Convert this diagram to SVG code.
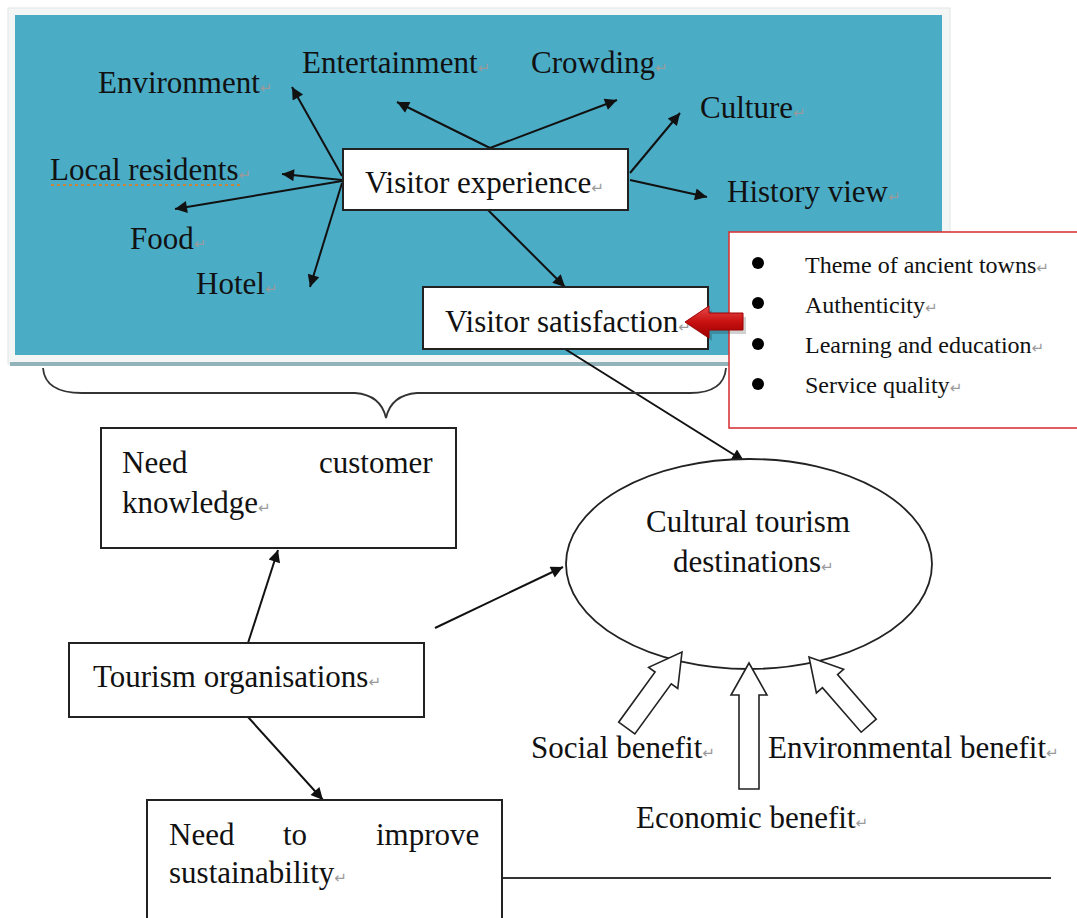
<svg xmlns="http://www.w3.org/2000/svg" width="1077" height="918" viewBox="0 0 1077 918">
<style>
.t{font-family:"Liberation Serif","Times New Roman",serif;font-size:31px;fill:#111}
.s{font-family:"Liberation Serif","Times New Roman",serif;font-size:24px;fill:#111}
.pm{font-family:"DejaVu Sans",sans-serif;font-size:15px;fill:#9a9a9a}
.box{fill:#fff;stroke:#222;stroke-width:2}
.ln{stroke:#111;stroke-width:2;fill:none;marker-end:url(#ah)}
.blk{fill:#fff;stroke:#222;stroke-width:1.6;stroke-linejoin:miter}
</style>
<defs>
<marker id="ah" viewBox="0 0 10 10" refX="10" refY="5" markerWidth="15" markerHeight="12" markerUnits="userSpaceOnUse" orient="auto">
<path d="M0,0 L10,5 L0,10 z" fill="#111"/>
</marker>
<linearGradient id="red" x1="0" y1="0" x2="0" y2="1">
<stop offset="0" stop-color="#e84a4a"/>
<stop offset="0.5" stop-color="#c81010"/>
<stop offset="1" stop-color="#9a0000"/>
</linearGradient>
</defs>
<rect width="1077" height="918" fill="#fff"/>

<g id="panel">
<rect x="8" y="8" width="942" height="356" fill="#f4f6f6" stroke="#e2e6e6" stroke-width="1"/>
<rect x="15" y="15" width="927" height="340" fill="#4bacc6"/>
<rect x="10" y="362" width="940" height="4" fill="#93b3bb"/>
</g>

<g id="connectors">
<line class="ln" x1="342" y1="176" x2="292" y2="87"/>
<line class="ln" x1="342" y1="180" x2="282" y2="174"/>
<line class="ln" x1="342" y1="181" x2="175" y2="209"/>
<line class="ln" x1="342" y1="183" x2="310" y2="287"/>
<line class="ln" x1="490" y1="148" x2="397" y2="102"/>
<line class="ln" x1="490" y1="148" x2="617" y2="100"/>
<line class="ln" x1="630" y1="173" x2="680" y2="113"/>
<line class="ln" x1="630" y1="180" x2="707" y2="197"/>
<line class="ln" x1="488" y1="210" x2="565" y2="287"/>
<line class="ln" x1="565" y1="349" x2="744" y2="461"/>
<line class="ln" x1="248" y1="643" x2="278" y2="550"/>
<line class="ln" x1="435" y1="628" x2="563" y2="567"/>
<line class="ln" x1="248" y1="717" x2="323" y2="800"/>
<line x1="502" y1="878" x2="1051" y2="878" stroke="#333" stroke-width="2"/>
<path d="M43,368 Q45,393 82,393 L355,393 Q381,395 386,418 Q391,395 417,393 L690,393 Q724,393 726,368" fill="none" stroke="#333" stroke-width="1.8"/>
</g>

<g id="labels">
<text class="t" x="98" y="93">Environment<tspan class="pm">↵</tspan></text>
<text class="t" x="302" y="73">Entertainment<tspan class="pm">↵</tspan></text>
<text class="t" x="531" y="73">Crowding<tspan class="pm">↵</tspan></text>
<text class="t" x="700" y="118">Culture<tspan class="pm">↵</tspan></text>
<text class="t" x="727" y="202">History view<tspan class="pm">↵</tspan></text>
<text class="t" x="50" y="180">Local residents<tspan class="pm">↵</tspan></text>
<line x1="51" y1="185" x2="243" y2="185" stroke="#c8843a" stroke-width="2" stroke-dasharray="3,3"/>
<text class="t" x="130" y="249">Food<tspan class="pm">↵</tspan></text>
<text class="t" x="196" y="294">Hotel<tspan class="pm">↵</tspan></text>
</g>

<g id="visitor-experience">
<rect class="box" x="343" y="149" width="285" height="61"/>
<text class="t" x="365" y="193">Visitor experience<tspan class="pm">↵</tspan></text>
</g>

<g id="visitor-satisfaction">
<rect class="box" x="423" y="287" width="285" height="62"/>
<text class="t" x="445" y="332">Visitor satisfaction<tspan class="pm">↵</tspan></text>
</g>

<g id="factors">
<rect x="729" y="232" width="360" height="196" fill="#fff" stroke="#d8373a" stroke-width="1.6"/>
<circle cx="758" cy="263" r="6" fill="#000"/>
<circle cx="758" cy="303" r="6" fill="#000"/>
<circle cx="758" cy="344" r="6" fill="#000"/>
<circle cx="758" cy="384" r="6" fill="#000"/>
<text class="s" x="805" y="273">Theme of ancient towns<tspan class="pm">↵</tspan></text>
<text class="s" x="805" y="313">Authenticity<tspan class="pm">↵</tspan></text>
<text class="s" x="805" y="353">Learning and education<tspan class="pm">↵</tspan></text>
<text class="s" x="805" y="393">Service quality<tspan class="pm">↵</tspan></text>
</g>

<g id="red-arrow">
<polygon points="688,325 712,310 712,317 746,317 746,334 712,334 712,341" fill="#000" opacity="0.18"/>
<polygon points="685,322 709,306 709,313 743,313 743,330 709,330 709,338" fill="url(#red)" stroke="#a00000" stroke-width="1"/>
</g>

<g id="need-customer-knowledge">
<rect class="box" x="101" y="428" width="355" height="120"/>
<text class="t" y="473"><tspan x="122">Need</tspan><tspan x="319">customer</tspan></text>
<text class="t" x="122" y="513">knowledge<tspan class="pm">↵</tspan></text>
</g>

<g id="tourism-organisations">
<rect class="box" x="69" y="643" width="355" height="74"/>
<text class="t" x="93" y="687">Tourism organisations<tspan class="pm">↵</tspan></text>
</g>

<g id="need-sustainability">
<rect class="box" x="147" y="800" width="355" height="130"/>
<text class="t" y="845"><tspan x="169">Need</tspan><tspan x="283">to</tspan><tspan x="376">improve</tspan></text>
<text class="t" x="169" y="883">sustainability<tspan class="pm">↵</tspan></text>
</g>

<g id="cultural-tourism-destinations">
<ellipse cx="749" cy="564" rx="183" ry="105" fill="#fff" stroke="#222" stroke-width="1.8"/>
<text class="t" x="748" y="532" text-anchor="middle">Cultural tourism</text>
<text class="t" x="673" y="572">destinations<tspan class="pm">↵</tspan></text>
</g>

<g id="benefits">
<polygon class="blk" transform="translate(682,652) rotate(36)" points="0,0 18,32 10,32 10,94 -10,94 -10,32 -18,32"/>
<polygon class="blk" transform="translate(749,663)" points="0,0 18,32 10,32 10,126 -10,126 -10,32 -18,32"/>
<polygon class="blk" transform="translate(809,657) rotate(-41)" points="0,0 18,32 10,32 10,91 -10,91 -10,32 -18,32"/>
<text class="t" x="531" y="758">Social benefit<tspan class="pm">↵</tspan></text>
<text class="t" x="768" y="758">Environmental benefit<tspan class="pm">↵</tspan></text>
<text class="t" x="636" y="828">Economic benefit<tspan class="pm">↵</tspan></text>
</g>
</svg>
